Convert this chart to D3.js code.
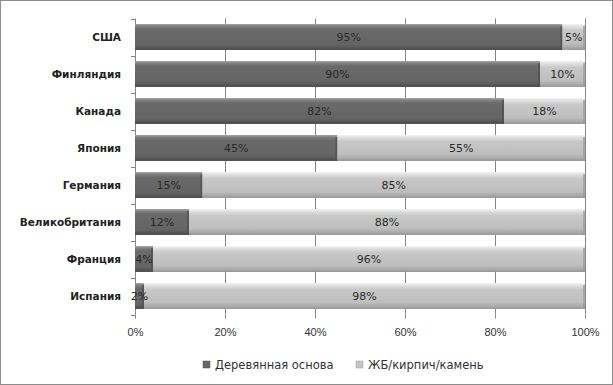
<!DOCTYPE html>
<html>
<head>
<meta charset="utf-8">
<script src="https://cdn.jsdelivr.net/npm/d3@7"></script>
<style>
  body { margin: 0; background: #fff; }
  svg { display: block; font-family: "DejaVu Sans", Verdana, sans-serif; }
</style>
</head>
<body>
<div id="vis"></div>
<script>
// Data
var countries = ["США", "Финляндия", "Канада", "Япония", "Германия", "Великобритания", "Франция", "Испания"];
var wooden = [95, 90, 82, 45, 15, 12, 4, 2];
var concrete = [5, 10, 18, 55, 85, 88, 96, 98];
var seriesNames = ["Деревянная основа", "ЖБ/кирпич/камень"];
var xTicks = [0, 20, 40, 60, 80, 100];

var svgWidth = 613, svgHeight = 385;
var margin = { left: 135, right: 28, top: 18.5, bottom: 70.5 };

var svg = d3.select("#vis").append("svg")
  .attr("width", svgWidth)
  .attr("height", svgHeight);

// chart border
svg.append("rect")
  .attr("x", 0.5).attr("y", 0.5)
  .attr("width", svgWidth - 1).attr("height", svgHeight - 1)
  .attr("fill", "#fff")
  .attr("stroke", "#8c8c8c");

var defs = svg.append("defs");
function makeGrad(id, stops) {
  var g = defs.append("linearGradient").attr("id", id)
    .attr("x1", 0).attr("y1", 0).attr("x2", 0).attr("y2", 1);
  stops.forEach(function (s) {
    g.append("stop").attr("offset", s[0]).attr("stop-color", s[1]);
  });
}
makeGrad("gDark", [[0, "#a0a0a0"], [0.1, "#7c7c7c"], [0.2, "#6a6a6a"], [0.8, "#646464"], [0.92, "#555"], [1, "#474747"]]);
makeGrad("gLight", [[0, "#f2f2f2"], [0.12, "#dcdcdc"], [0.25, "#c8c8c8"], [0.75, "#bebebe"], [0.92, "#a6a6a6"], [1, "#939393"]]);

var x = d3.scaleLinear()
  .domain([0, 100])
  .range([margin.left, svgWidth - margin.right]);

var y = d3.scaleBand()
  .domain(countries)
  .range([margin.top, svgHeight - margin.bottom])
  .paddingInner(0.3)
  .paddingOuter(0.15);

// gridlines
svg.append("g")
  .selectAll("line")
  .data(xTicks.slice(1))
  .enter().append("line")
  .attr("x1", function (d) { return Math.round(x(d)) + 0.5; })
  .attr("x2", function (d) { return Math.round(x(d)) + 0.5; })
  .attr("y1", margin.top)
  .attr("y2", svgHeight - margin.bottom)
  .attr("stroke", "#868686");

// x axis
var xAxis = d3.axisBottom(x)
  .tickValues(xTicks)
  .tickFormat(function (d) { return d + "%"; })
  .tickSize(4)
  .tickPadding(10);
var xg = svg.append("g")
  .attr("transform", "translate(0," + (svgHeight - margin.bottom) + ")")
  .call(xAxis);
xg.select(".domain").remove();
xg.selectAll("line").attr("stroke", "#868686");
xg.selectAll("text").attr("font-size", 11).attr("fill", "#333");

// y axis
var bandStep = y.step();
var yTickPos = d3.range(countries.length + 1).map(function (i) {
  return margin.top + i * bandStep;
});
var yg = svg.append("g");
yg.append("line")
  .attr("x1", margin.left + 0.5).attr("x2", margin.left + 0.5)
  .attr("y1", margin.top).attr("y2", svgHeight - margin.bottom)
  .attr("stroke", "#868686");
yg.selectAll(".ytick")
  .data(yTickPos)
  .enter().append("line")
  .attr("class", "ytick")
  .attr("x1", margin.left - 4).attr("x2", margin.left)
  .attr("y1", function (d) { return Math.round(d) + 0.5; })
  .attr("y2", function (d) { return Math.round(d) + 0.5; })
  .attr("stroke", "#868686");
yg.selectAll("text")
  .data(countries)
  .enter().append("text")
  .attr("x", margin.left - 14)
  .attr("y", function (d) { return y(d) + y.bandwidth() / 2; })
  .attr("dy", "0.35em")
  .attr("text-anchor", "end")
  .attr("font-size", 10.5)
  .attr("font-weight", "bold")
  .attr("fill", "#222")
  .text(function (d) { return d; });

// bars
var rows = countries.map(function (c, i) {
  return { name: c, a: wooden[i], b: concrete[i] };
});

var bars = svg.append("g");
function drawSegments(key, start, grad) {
  bars.selectAll(".seg-" + key)
    .data(rows)
    .enter().append("rect")
    .attr("class", "seg-" + key)
    .attr("x", function (d) { return x(start(d)); })
    .attr("y", function (d) { return y(d.name); })
    .attr("width", function (d) { return x(start(d) + d[key]) - x(start(d)); })
    .attr("height", y.bandwidth())
    .attr("fill", "url(#" + grad + ")");
  // right side bevel shade
  bars.selectAll(".edge-" + key)
    .data(rows)
    .enter().append("rect")
    .attr("class", "edge-" + key)
    .attr("x", function (d) { return x(start(d) + d[key]) - 2; })
    .attr("y", function (d) { return y(d.name) + 2; })
    .attr("width", 2)
    .attr("height", y.bandwidth() - 2)
    .attr("fill", key === "a" ? "#4e4e4e" : "#9a9a9a")
    .attr("opacity", 0.7);
}
drawSegments("a", function () { return 0; }, "gDark");
drawSegments("b", function (d) { return d.a; }, "gLight");

// data labels
var labels = svg.append("g")
  .attr("font-size", 11)
  .attr("fill", "#2a2a2a")
  .attr("text-anchor", "middle");
rows.forEach(function (d) {
  labels.append("text")
    .attr("x", x(d.a / 2))
    .attr("y", y(d.name) + y.bandwidth() / 2)
    .attr("dy", "0.35em")
    .text(d.a + "%");
  labels.append("text")
    .attr("x", x(d.a + d.b / 2))
    .attr("y", y(d.name) + y.bandwidth() / 2)
    .attr("dy", "0.35em")
    .text(d.b + "%");
});

// legend
var legendX = [203, 356];
var legendFill = ["#666", "#c4c4c4"];
var legend = svg.append("g");
seriesNames.forEach(function (name, i) {
  legend.append("rect")
    .attr("x", legendX[i]).attr("y", 361)
    .attr("width", 7).attr("height", 7)
    .attr("fill", legendFill[i])
    .attr("stroke", i === 0 ? "#555" : "#a0a0a0")
    .attr("stroke-width", 0.5);
  legend.append("text")
    .attr("x", legendX[i] + 12)
    .attr("y", 365)
    .attr("dy", "0.35em")
    .attr("font-size", 11.5)
    .attr("fill", "#333")
    .text(name);
});
</script>
</body>
</html>
